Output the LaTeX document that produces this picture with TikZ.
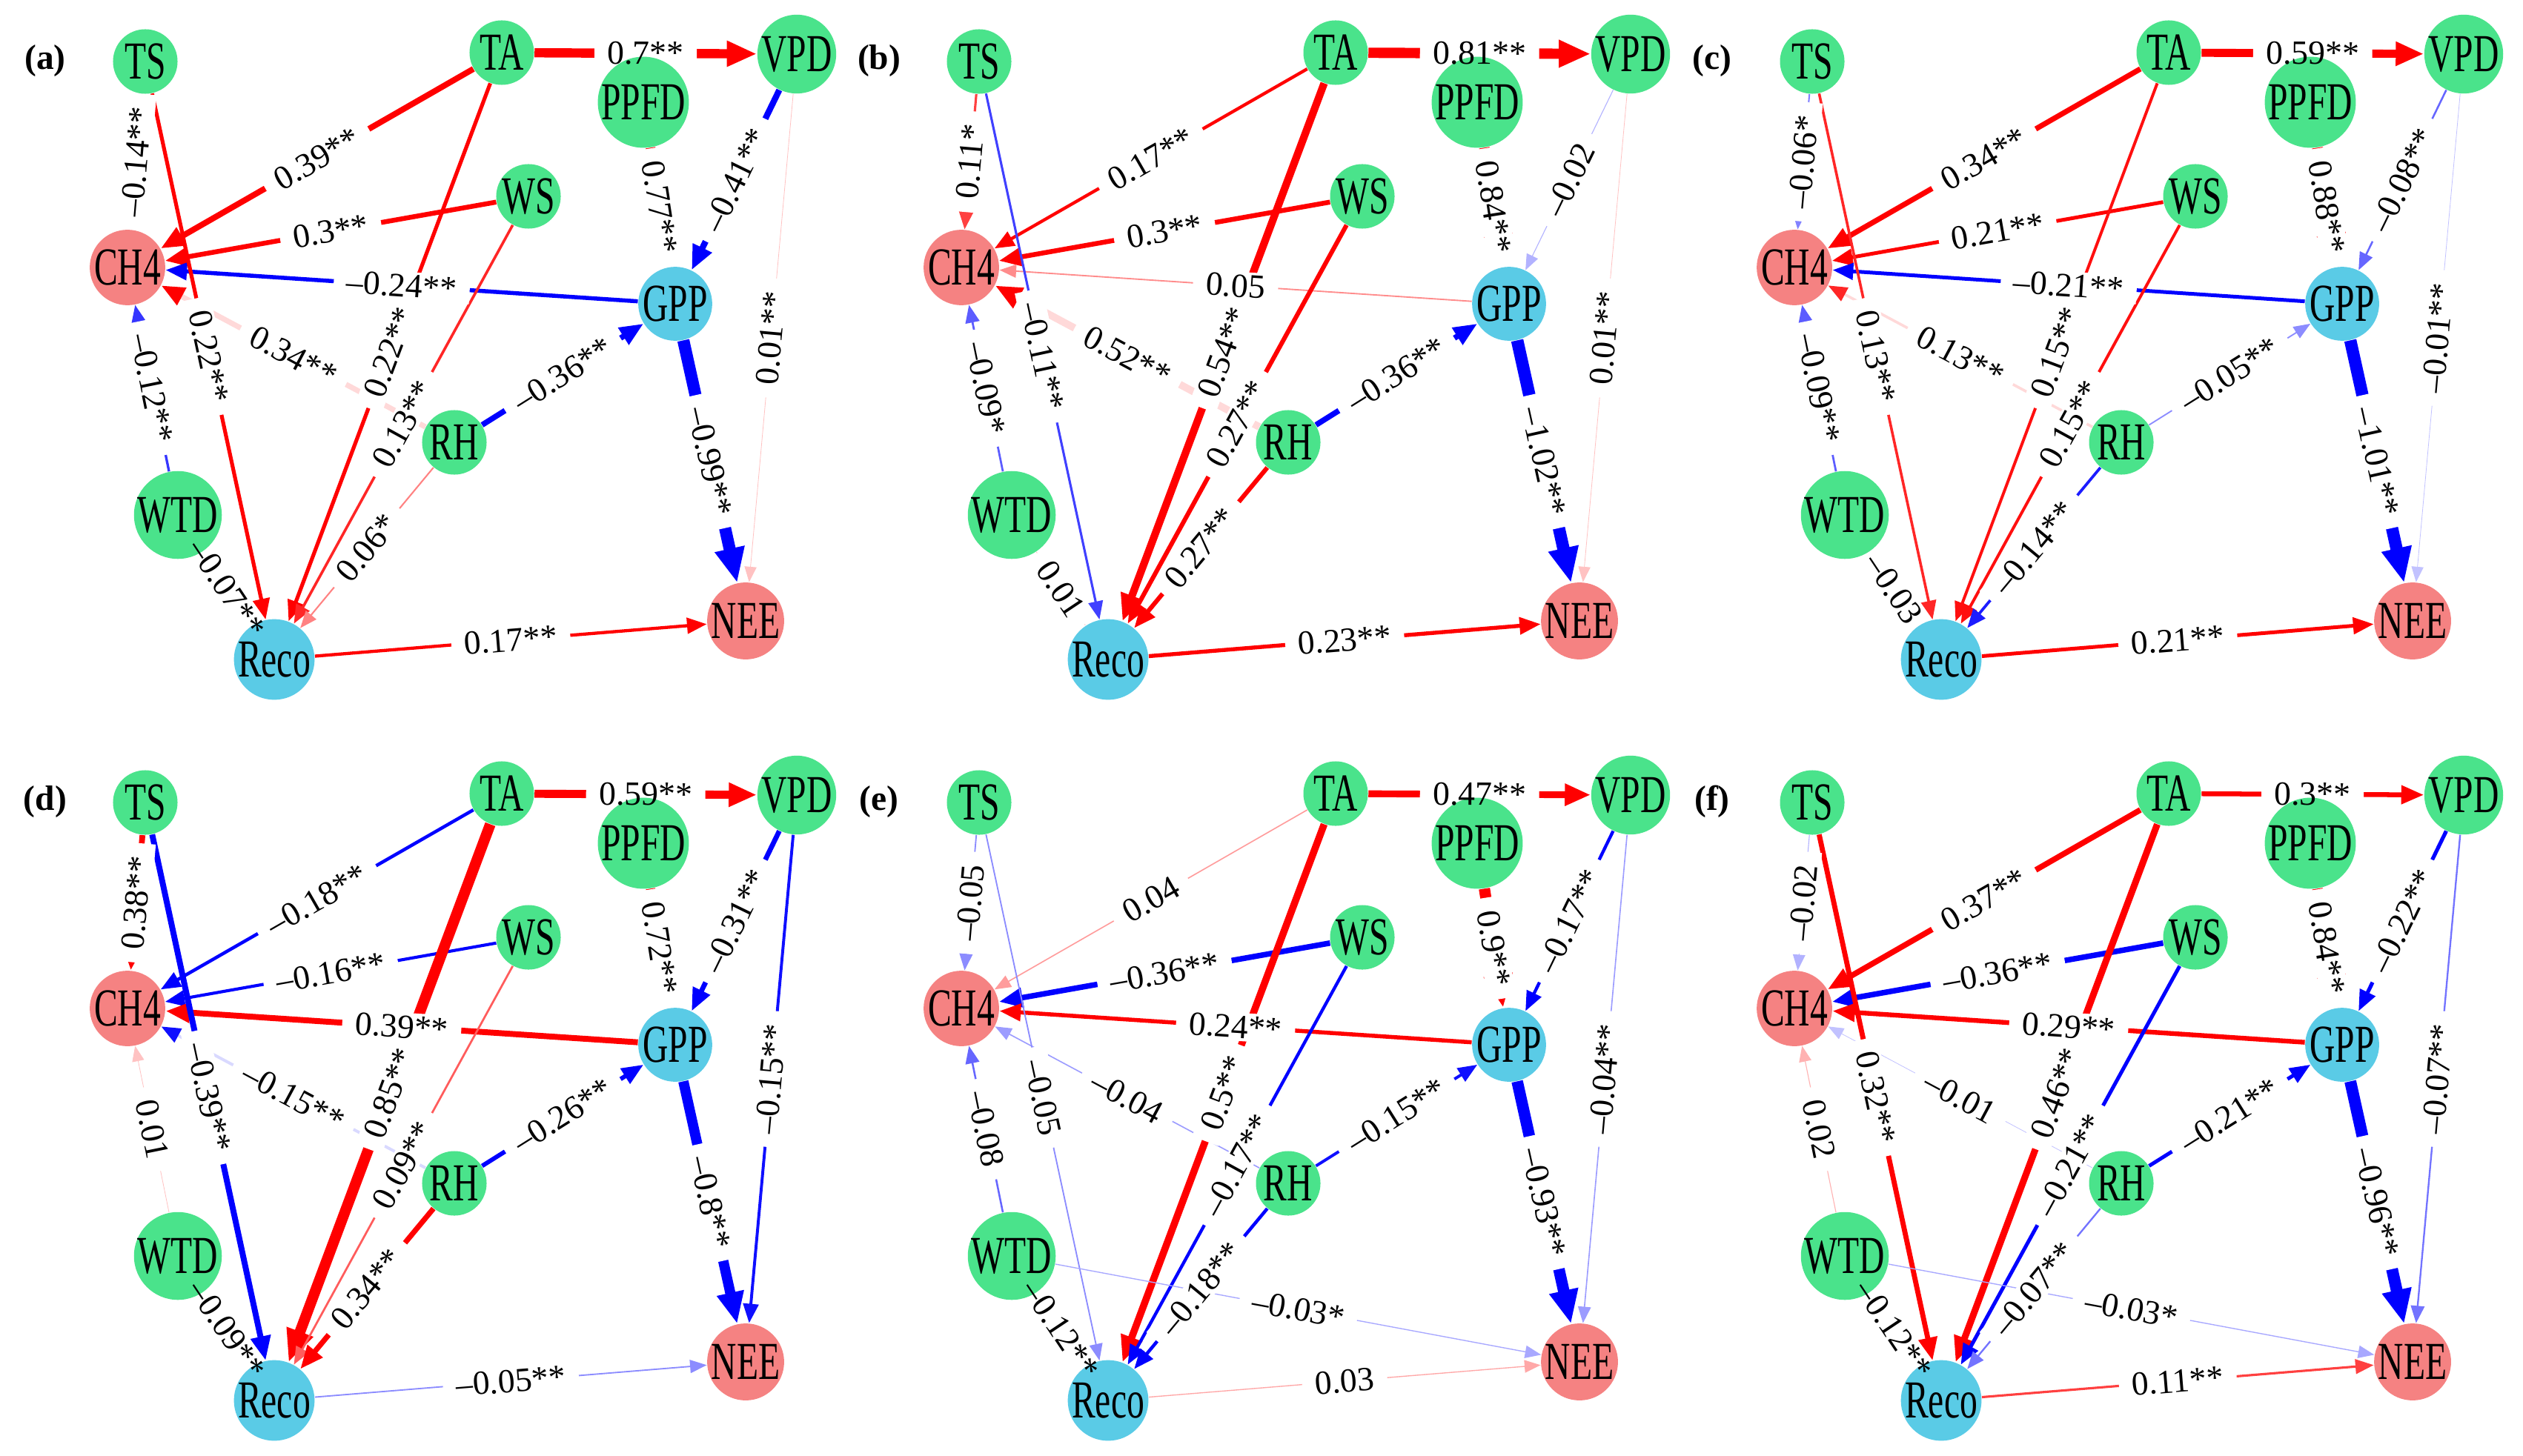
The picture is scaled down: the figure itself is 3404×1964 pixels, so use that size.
\documentclass[tikz,border=0pt]{standalone}
\usepackage{fontspec}
\setmainfont{Liberation Serif}
\newfontfamily\narrowserif[FakeStretch=0.66]{Liberation Serif}
\usetikzlibrary{arrows.meta}
\pgfdeclarelayer{bglayer}
\pgfdeclarelayer{edgelayer}
\pgfdeclarelayer{lablayer}
\pgfdeclarelayer{toplayer}
\pgfsetlayers{bglayer,edgelayer,lablayer,main,toplayer}
\definecolor{grn}{HTML}{4AE38B}
\definecolor{sal}{HTML}{F58282}
\definecolor{sky}{HTML}{5ACBE6}

\tikzset{
  var/.style={circle, fill=grn, minimum size=0.87cm, inner sep=0pt,
    font=\narrowserif\fontsize{20.5}{22}\selectfont},
  flux/.style={var, fill=sal},
  prod/.style={var, fill=sky},
  lab/.style={midway, sloped, fill=white, inner xsep=5pt, inner ysep=1pt,
    font=\fontsize{13}{15}\selectfont},
  tag/.style={font=\bfseries\fontsize{13.5}{15}\selectfont}
}

% the eleven variables of one panel
\newcommand\nodeset[1]{%
  \node[var]  (TS)   at (196,83)  {TS};
  \node[var]  (TA)   at (677,71)  {TA};
  \node[var]  (VPD)  at (1075,73) {VPD};
  \node[var]  (PPFD) at (868,138) {PPFD};
  \node[var]  (WS)   at (713,265) {WS};
  \node[flux] (CH4)  at (172,361) {CH4};
  \node[prod] (GPP)  at (911,410) {GPP};
  \node[var]  (RH)   at (613,597) {RH};
  \node[var]  (WTD)  at (240,695) {WTD};
  \node[prod] (Reco) at (370,890) {Reco};
  \node[flux] (NEE)  at (1006,838) {NEE};
  \node[tag]  (tag)  at (61,82)   {(#1)};
}

% path coefficient: [extra style]{from}{to}{value}{label}
\newcommand\pth[5][]{%
  \pgfmathsetmacro\pw{abs(#4)}%
  \pgfmathsetmacro\lw{(0.4+16*\pw^0.8)*0.2845}%
  \pgfmathtruncatemacro\fd{min(100,20+500*\pw)}%
  \ifdim #4pt<0pt \def\ec{blue}\else\def\ec{red}\fi
  \begin{pgfonlayer}{edgelayer}
    \draw[line width=\lw pt, draw=\ec!\fd,
      -{Triangle[length=5.5pt 1.7, width=4.3pt 1.4, color=\ec!\fd]}, #1] (#2) -- (#3);
  \end{pgfonlayer}
  \begin{pgfonlayer}{lablayer}
    \path (#2) -- (#3) node[lab, text opacity=0] {#5};
  \end{pgfonlayer}
  \begin{pgfonlayer}{toplayer}
    \path (#2) -- (#3) node[lab, fill=none] {#5};
  \end{pgfonlayer}%
}

\begin{document}
\begin{tikzpicture}[x=0.01cm, y=-0.01cm]
\useasboundingbox (0,0) rectangle (3404,1964);
\begin{pgfonlayer}{bglayer}
  \fill[white] (0,0) rectangle (3404,1964);
\end{pgfonlayer}

% (a)
\begin{scope}[name prefix=a-]
  \nodeset{a}
  \pth{TA}{VPD}{0.7}{0.7**}
  \pth{TA}{CH4}{0.39}{0.39**}
  \pth{WS}{CH4}{0.3}{0.3**}
  \pth{GPP}{CH4}{-0.24}{–0.24**}
  \pth{TS}{CH4}{-0.14}{–0.14**}
  \pth[draw=red!15]{RH}{CH4}{0.34}{0.34**}
  \pth{WTD}{CH4}{-0.12}{–0.12**}
  \pth{TS}{Reco}{0.22}{0.22**}
  \pth{TA}{Reco}{0.22}{0.22**}
  \pth{WS}{Reco}{0.13}{0.13**}
  \pth{RH}{Reco}{0.06}{0.06*}
  \pth{WTD}{Reco}{-0.07}{–0.07**}
  \pth{RH}{GPP}{-0.36}{–0.36**}
  \pth{PPFD}{GPP}{0.77}{0.77**}
  \pth{VPD}{GPP}{-0.41}{–0.41**}
  \pth{VPD}{NEE}{0.01}{0.01**}
  \pth{GPP}{NEE}{-0.99}{–0.99**}
  \pth{Reco}{NEE}{0.17}{0.17**}
\end{scope}

% (b)
\begin{scope}[shift={(1125,0)}, name prefix=b-]
  \nodeset{b}
  \pth{TA}{VPD}{0.81}{0.81**}
  \pth{TA}{CH4}{0.17}{0.17**}
  \pth{WS}{CH4}{0.3}{0.3**}
  \pth{GPP}{CH4}{0.05}{0.05}
  \pth{TS}{CH4}{0.11}{0.11*}
  \pth[draw=red!15]{RH}{CH4}{0.52}{0.52**}
  \pth{WTD}{CH4}{-0.09}{–0.09*}
  \pth{TS}{Reco}{-0.11}{–0.11**}
  \pth{TA}{Reco}{0.54}{0.54**}
  \pth{WS}{Reco}{0.27}{0.27**}
  \pth{RH}{Reco}{0.27}{0.27**}
  \pth{WTD}{Reco}{0.01}{0.01}
  \pth{RH}{GPP}{-0.36}{–0.36**}
  \pth{PPFD}{GPP}{0.84}{0.84**}
  \pth{VPD}{GPP}{-0.02}{–0.02}
  \pth{VPD}{NEE}{0.01}{0.01**}
  \pth{GPP}{NEE}{-1.02}{–1.02**}
  \pth{Reco}{NEE}{0.23}{0.23**}
\end{scope}

% (c)
\begin{scope}[shift={(2249,0)}, name prefix=c-]
  \nodeset{c}
  \pth{TA}{VPD}{0.59}{0.59**}
  \pth{TA}{CH4}{0.34}{0.34**}
  \pth{WS}{CH4}{0.21}{0.21**}
  \pth{GPP}{CH4}{-0.21}{–0.21**}
  \pth{TS}{CH4}{-0.06}{–0.06*}
  \pth[draw=red!15]{RH}{CH4}{0.13}{0.13**}
  \pth{WTD}{CH4}{-0.09}{–0.09**}
  \pth{TS}{Reco}{0.13}{0.13**}
  \pth{TA}{Reco}{0.15}{0.15**}
  \pth{WS}{Reco}{0.15}{0.15**}
  \pth{RH}{Reco}{-0.14}{–0.14**}
  \pth{WTD}{Reco}{-0.03}{–0.03}
  \pth{RH}{GPP}{-0.05}{–0.05**}
  \pth{PPFD}{GPP}{0.88}{0.88**}
  \pth{VPD}{GPP}{-0.08}{–0.08**}
  \pth{VPD}{NEE}{-0.01}{–0.01**}
  \pth{GPP}{NEE}{-1.01}{–1.01**}
  \pth{Reco}{NEE}{0.21}{0.21**}
\end{scope}

% (d)
\begin{scope}[shift={(0,1000)}, name prefix=d-]
  \nodeset{d}
  \pth{TA}{VPD}{0.59}{0.59**}
  \pth{TA}{CH4}{-0.18}{–0.18**}
  \pth{WS}{CH4}{-0.16}{–0.16**}
  \pth{GPP}{CH4}{0.39}{0.39**}
  \pth{TS}{CH4}{0.38}{0.38**}
  \pth[draw=blue!15]{RH}{CH4}{-0.15}{–0.15**}
  \pth{WTD}{CH4}{0.01}{0.01}
  \pth{TS}{Reco}{-0.39}{–0.39**}
  \pth{TA}{Reco}{0.85}{0.85**}
  \pth{WS}{Reco}{0.09}{0.09**}
  \pth{RH}{Reco}{0.34}{0.34**}
  \pth{WTD}{Reco}{-0.09}{–0.09**}
  \pth{RH}{GPP}{-0.26}{–0.26**}
  \pth{PPFD}{GPP}{0.72}{0.72**}
  \pth{VPD}{GPP}{-0.31}{–0.31**}
  \pth{VPD}{NEE}{-0.15}{–0.15**}
  \pth{GPP}{NEE}{-0.8}{–0.8**}
  \pth{Reco}{NEE}{-0.05}{–0.05**}
\end{scope}

% (e)
\begin{scope}[shift={(1125,1000)}, name prefix=e-]
  \nodeset{e}
  \pth{TA}{VPD}{0.47}{0.47**}
  \pth{TA}{CH4}{0.04}{0.04}
  \pth{WS}{CH4}{-0.36}{–0.36**}
  \pth{GPP}{CH4}{0.24}{0.24**}
  \pth{TS}{CH4}{-0.05}{–0.05}
  \pth{RH}{CH4}{-0.04}{–0.04}
  \pth{WTD}{CH4}{-0.08}{–0.08}
  \pth{TS}{Reco}{-0.05}{–0.05}
  \pth{TA}{Reco}{0.5}{0.5**}
  \pth{WS}{Reco}{-0.17}{–0.17**}
  \pth{RH}{Reco}{-0.18}{–0.18**}
  \pth{WTD}{Reco}{-0.12}{–0.12**}
  \pth{WTD}{NEE}{-0.03}{–0.03*}
  \pth{RH}{GPP}{-0.15}{–0.15**}
  \pth{PPFD}{GPP}{0.9}{0.9**}
  \pth{VPD}{GPP}{-0.17}{–0.17**}
  \pth{VPD}{NEE}{-0.04}{–0.04**}
  \pth{GPP}{NEE}{-0.93}{–0.93**}
  \pth{Reco}{NEE}{0.03}{0.03}
\end{scope}

% (f)
\begin{scope}[shift={(2249,1000)}, name prefix=f-]
  \nodeset{f}
  \pth{TA}{VPD}{0.3}{0.3**}
  \pth{TA}{CH4}{0.37}{0.37**}
  \pth{WS}{CH4}{-0.36}{–0.36**}
  \pth{GPP}{CH4}{0.29}{0.29**}
  \pth{TS}{CH4}{-0.02}{–0.02}
  \pth{RH}{CH4}{-0.01}{–0.01}
  \pth{WTD}{CH4}{0.02}{0.02}
  \pth{TS}{Reco}{0.32}{0.32**}
  \pth{TA}{Reco}{0.46}{0.46**}
  \pth{WS}{Reco}{-0.21}{–0.21**}
  \pth{RH}{Reco}{-0.07}{–0.07**}
  \pth{WTD}{Reco}{-0.12}{–0.12**}
  \pth{WTD}{NEE}{-0.03}{–0.03*}
  \pth{RH}{GPP}{-0.21}{–0.21**}
  \pth{PPFD}{GPP}{0.84}{0.84**}
  \pth{VPD}{GPP}{-0.22}{–0.22**}
  \pth{VPD}{NEE}{-0.07}{–0.07**}
  \pth{GPP}{NEE}{-0.96}{–0.96**}
  \pth{Reco}{NEE}{0.11}{0.11**}
\end{scope}
\end{tikzpicture}
\end{document}
